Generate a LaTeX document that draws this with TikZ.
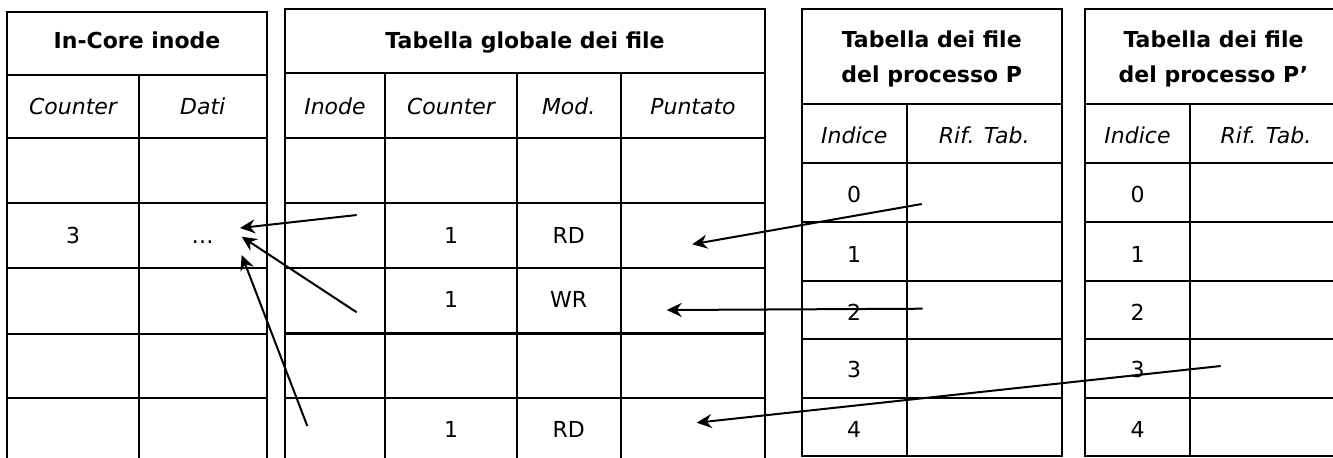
\documentclass[tikz,border=0pt]{standalone}
\usepackage{fontspec}
\setmainfont{DejaVu Sans}
\usetikzlibrary{arrows.meta}
\begin{document}
\begin{tikzpicture}[x=0.5pt,y=-0.5pt,
  grid/.style={line width=1.15pt},
  lbl/.style={anchor=base,inner sep=0pt,font=\fontsize{11}{13}\selectfont},
  ttl/.style={anchor=base,inner sep=0pt,font=\fontsize{11}{13}\selectfont\bfseries},
  hdr/.style={anchor=base,inner sep=0pt,font=\fontsize{11}{13}\selectfont\itshape},
  ptr/.style={line width=1pt,-{Stealth[length=7.5pt,width=7pt,inset=2.5pt]}}]
\useasboundingbox (0,0) rectangle (1333,457);
\clip (0,0) rectangle (1333,457);
\fill[white] (0,0) rectangle (1333,457);

% ---- Table 1: In-Core inode
\draw[grid] (7.3,470) -- (7.3,11.7) -- (266.7,11.7) -- (266.7,470);
\foreach \y in {74.7,137.7,203,267.7,334,398.3}
  \draw[grid] (7.3,\y) -- (266.7,\y);
\draw[grid] (138.7,74.7) -- (138.7,470);

% ---- Table 2: Tabella globale dei file
\draw[grid] (285,470) -- (285,9.3) -- (765,9.3) -- (765,470);
\foreach \y in {72.7,137.7,203,268,333.5,398.3}
  \draw[grid] (285,\y) -- (765,\y);
\foreach \x in {385,516.7,620.7}
  \draw[grid] (\x,72.7) -- (\x,470);

% ---- Table 3: processo P
\draw[grid] (801.7,9.3) rectangle (1061.7,455.7);
\foreach \y in {104.3,163.3,221.7,281,339,398.3}
  \draw[grid] (801.7,\y) -- (1061.7,\y);
\draw[grid] (906.7,104.3) -- (906.7,455.7);

% ---- Table 4: processo P'
\draw[grid] (1085,9.3) rectangle (1342,455.7);
\foreach \y in {104.3,163.3,221.7,281,339,398.3}
  \draw[grid] (1085,\y) -- (1342,\y);
\draw[grid] (1190,104.3) -- (1190,455.7);

% ---- Texts table 1
\node[ttl] (t1title) at (137,48) {In-Core inode};
\node[hdr] (t1cnt) at (73,114) {Counter};
\node[hdr] (t1dati) at (202.7,114) {Dati};
\node[lbl] (t1c3) at (73,243) {3};
\node[lbl] (t1dots) at (202.7,243) {…};

% ---- Texts table 2
\node[ttl] (t2title) at (525,48) {Tabella globale dei file};
\node[hdr] (t2inode) at (335,114) {Inode};
\node[hdr] (t2cnt) at (451,114) {Counter};
\node[hdr] (t2mod) at (568.7,114) {Mod.};
\node[hdr] (t2punt) at (693,114) {Puntato};
\node[lbl] (t2c1) at (451,243) {1};
\node[lbl] (t2m1) at (568.7,243) {RD};
\node[lbl] (t2c2) at (451,307) {1};
\node[lbl] (t2m2) at (568.7,307) {WR};
\node[lbl] (t2c4) at (451,437) {1};
\node[lbl] (t2m4) at (568.7,437) {RD};

% ---- Texts table 3
\node[ttl] (t3titleA) at (931.7,47) {Tabella dei file};
\node[ttl] (t3titleB) at (931.7,82) {del processo P};
\node[hdr] (t3idx) at (854.2,143) {Indice};
\node[hdr] (t3rif) at (984.2,143) {Rif. Tab.};
\node[lbl] (t3i0) at (854.2,202) {0};
\node[lbl] (t3i1) at (854.2,262) {1};
\node[lbl] (t3i2) at (854.2,320) {2};
\node[lbl] (t3i3) at (854.2,377) {3};
\node[lbl] (t3i4) at (854.2,437) {4};

% ---- Texts table 4
\node[ttl] (t4titleA) at (1213.5,47) {Tabella dei file};
\node[ttl] (t4titleB) at (1213.5,82) {del processo P’};
\node[hdr] (t4idx) at (1137.5,143) {Indice};
\node[hdr] (t4rif) at (1266,143) {Rif. Tab.};
\node[lbl] (t4i0) at (1137.5,202) {0};
\node[lbl] (t4i1) at (1137.5,262) {1};
\node[lbl] (t4i2) at (1137.5,320) {2};
\node[lbl] (t4i3) at (1137.5,377) {3};
\node[lbl] (t4i4) at (1137.5,437) {4};

% ---- Arrow end points
\coordinate (g1inode) at (356.7,215);
\coordinate (g2inode) at (356.7,312.3);
\coordinate (g4inode) at (307.3,426);
\coordinate (dataA) at (240,228);
\coordinate (dataB) at (241.7,236.7);
\coordinate (dataC) at (241.7,255);
\coordinate (p0rif) at (921.7,204);
\coordinate (p2rif) at (922.7,308.7);
\coordinate (q3rif) at (1220.7,366);
\coordinate (g1punt) at (692.3,244.3);
\coordinate (g2punt) at (666.7,310);
\coordinate (g4punt) at (696.7,422.7);

% ---- Arrows
\draw[ptr] (g1inode) -- (dataA);
\draw[ptr] (g2inode) -- (dataB);
\draw[ptr] (g4inode) -- (dataC);
\draw[ptr] (p0rif) -- (g1punt);
\draw[ptr] (p2rif) -- (g2punt);
\draw[ptr] (q3rif) -- (g4punt);
\end{tikzpicture}
\end{document}
